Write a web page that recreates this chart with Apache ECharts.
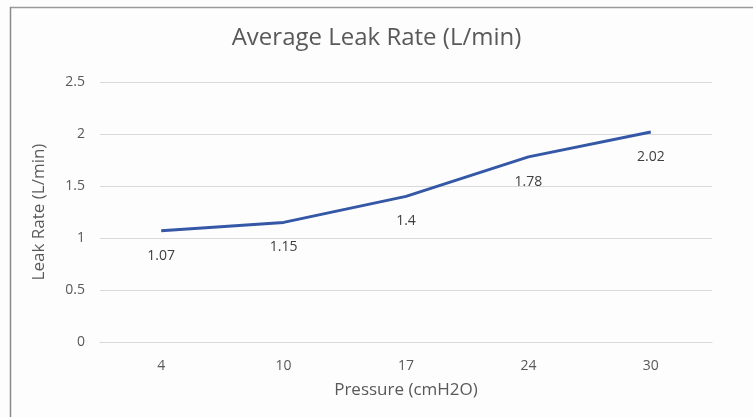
<!DOCTYPE html>
<html>
<head>
<meta charset="utf-8">
<script src="https://cdn.jsdelivr.net/npm/echarts@6/dist/echarts.min.js"></script>
<style>html,body{margin:0;padding:0;background:#fff}#c{width:753px;height:417px}</style>
</head>
<body>
<div id="c"></div>
<script>
const categories = ['4', '10', '17', '24', '30'];
const leakRate = [1.07, 1.15, 1.4, 1.78, 2.02];
const yMin = 0, yMax = 2.5, yStep = 0.5;

const chart = echarts.init(document.getElementById('c'));
const font = 'Open Sans';
chart.setOption({
  animation: false,
  backgroundColor: '#fdfdfd',
  textStyle: { fontFamily: font },
  title: {
    text: 'Average Leak Rate (L/min)',
    left: 'center', top: 21,
    textStyle: { fontFamily: font, fontSize: 24, fontWeight: 'normal', color: '#595959' }
  },
  graphic: [
    { type: 'line', shape: { x1: 10, y1: 7.5, x2: 753, y2: 7.5 }, style: { stroke: '#9a9a9a', lineWidth: 1.5 } },
    { type: 'line', shape: { x1: 10.5, y1: 7, x2: 10.5, y2: 417 }, style: { stroke: '#8a8a8a', lineWidth: 1.5 } }
  ],
  grid: { left: 100, right: 41, top: 82, bottom: 75 },
  xAxis: {
    type: 'category', data: categories, boundaryGap: true,
    name: 'Pressure (cmH2O)', nameLocation: 'middle', nameGap: 40,
    nameTextStyle: { fontFamily: font, fontSize: 17, color: '#595959' },
    axisLine: { lineStyle: { color: '#d9d9d9' } },
    axisTick: { show: false },
    axisLabel: { color: '#595959', fontSize: 14, margin: 17 }
  },
  yAxis: {
    type: 'value', min: yMin, max: yMax, interval: yStep,
    name: 'Leak Rate (L/min)', nameLocation: 'middle', nameGap: 52,
    nameTextStyle: { fontFamily: font, fontSize: 17, color: '#595959' },
    axisLine: { show: false }, axisTick: { show: false },
    axisLabel: { color: '#595959', fontSize: 14, margin: 15 },
    splitLine: { lineStyle: { color: '#d9d9d9' } }
  },
  series: [{
    type: 'line', data: leakRate, symbol: 'circle', symbolSize: 2, showSymbol: true,
    itemStyle: { color: 'rgba(52,87,166,0)', borderWidth: 0 },
    lineStyle: { color: '#3457a6', width: 3 },
    label: { show: true, position: 'bottom', distance: 17, color: '#404040', fontSize: 14 }
  }]
});
</script>
</body>
</html>
